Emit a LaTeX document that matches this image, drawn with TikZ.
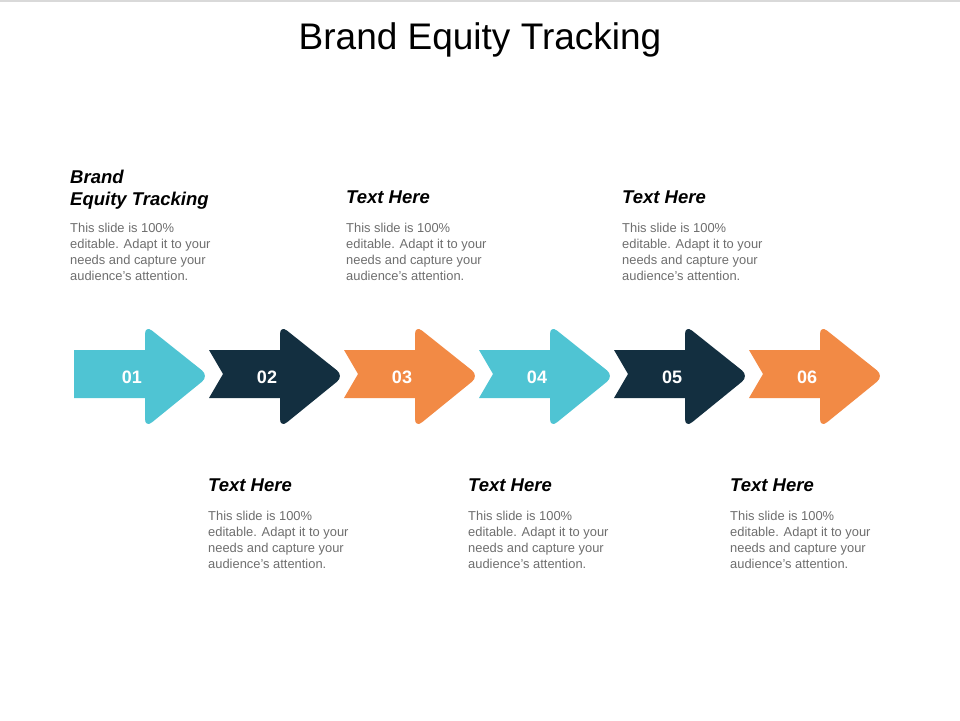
\documentclass[tikz,border=0pt]{standalone}
\usepackage{fontspec}
\setmainfont{Liberation Sans}
\usetikzlibrary{positioning}
\definecolor{cyanA}{HTML}{4FC4D3}
\definecolor{navyA}{HTML}{132F40}
\definecolor{orangeA}{HTML}{F28A45}
\definecolor{bodyA}{HTML}{6E6E6E}
\tikzset{
  heading/.style={anchor=north west, inner sep=0pt, align=left, font=\fontsize{18.5}{22}\selectfont\bfseries\itshape},
  bodytext/.style={anchor=north west, inner sep=0pt, align=left, text=bodyA, font=\fontsize{12.9}{16}\selectfont},
  numlabel/.style={text=white, font=\fontsize{18}{20}\selectfont\bfseries}
}
\newcommand{\bodytxt}{This slide is 100\%\\editable. Adapt it to your\\needs and capture your\\audience's attention.}
\begin{document}
\begin{tikzpicture}[x=1pt,y=-1pt]
    \useasboundingbox (0,0) rectangle (960,720);
    \draw[black!15, line width=1.5pt] (0,1) -- (960,1);
    % Title
    \node[font=\fontsize{37}{40}\selectfont] (title) at (480,40) {Brand Equity Tracking};

    % Arrows
    \foreach \i/\col/\notch in {1/cyanA/0, 2/navyA/14, 3/orangeA/14, 4/cyanA/14, 5/navyA/14, 6/orangeA/14} {
        \pgfmathsetmacro{\xa}{74+135*(\i-1)}
        \fill[\col] (\xa,350) -- (\xa+71,350) 
            [rounded corners=9pt] -- (\xa+71,325) -- (\xa+135,376) -- (\xa+71,428) [sharp corners] -- (\xa+71,398)
            -- (\xa,398) -- (\xa+\notch,374) -- cycle;
        \node[numlabel] (num\i) at (\xa+58,377) {0\i};
    }

    % Top texts
    \node[heading] (head1) at (70,170) {Brand\\Equity Tracking};
    \node[bodytext] (body1) at (70,223) {\bodytxt};
    \node[heading] (head3) at (346,191) {Text Here};
    \node[bodytext] (body3) at (346,223) {\bodytxt};
    \node[heading] (head5) at (622,191) {Text Here};
    \node[bodytext] (body5) at (622,223) {\bodytxt};

    % Bottom texts
    \node[heading] (head2) at (208,479) {Text Here};
    \node[bodytext] (body2) at (208,511) {\bodytxt};
    \node[heading] (head4) at (468,479) {Text Here};
    \node[bodytext] (body4) at (468,511) {\bodytxt};
    \node[heading] (head6) at (730,479) {Text Here};
    \node[bodytext] (body6) at (730,511) {\bodytxt};
\end{tikzpicture}
\end{document}
